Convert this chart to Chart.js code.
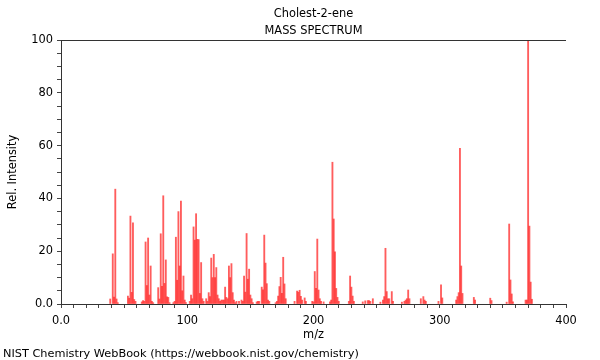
<!DOCTYPE html>
<html>
<head>
<meta charset="utf-8">
<script src="https://cdn.jsdelivr.net/npm/chart.js@4.4.1/dist/chart.umd.min.js"></script>
<style>
html,body{margin:0;padding:0;background:#fff;}
#wrap{position:relative;width:600px;height:360px;}
#chart{display:block;width:600px;height:360px;}
#footer{position:absolute;left:3px;top:347px;font-family:"DejaVu Sans",sans-serif;font-size:11.3px;line-height:13px;color:#000;white-space:nowrap;}
</style>
</head>
<body>
<div id="wrap">
<canvas id="chart" width="600" height="360"></canvas>
<div id="footer">NIST Chemistry WebBook (https://webbook.nist.gov/chemistry)</div>
</div>
<script>
// ---- data ----
const chartTitle = 'Cholest-2-ene';
const chartSubtitle = 'MASS SPECTRUM';
const xAxisTitle = 'm/z';
const yAxisTitle = 'Rel. Intensity';

const mz = [
  39, 41, 42, 43, 44, 45,
  53, 54, 55, 56, 57, 58, 59,
  64, 65, 66, 67, 68, 69, 70, 71, 72, 73,
  77, 78, 79, 80, 81, 82, 83, 84, 85, 86,
  89, 90, 91, 92, 93, 94, 95, 96, 97, 98, 99,
  102, 103, 104, 105, 106, 107, 108, 109, 110, 111, 112, 113,
  115, 116, 117, 118, 119, 120, 121, 122, 123, 124, 125, 126, 127, 128, 129,
  130, 131, 132, 133, 134, 135, 136, 137, 138, 139,
  141, 143, 144, 145, 146, 147, 148, 149, 150, 151, 152,
  155, 156, 157, 159, 160, 161, 162, 163, 164, 165,
  170, 171, 172, 173, 174, 175, 176, 177, 178,
  185, 187, 188, 189, 190, 191, 193, 194,
  199, 200, 201, 202, 203, 204, 205, 206, 208,
  213, 214, 215, 216, 217, 218, 219, 220,
  228, 229, 230, 231, 232,
  239, 241, 243, 244, 245, 247,
  253, 255, 256, 257, 258, 259, 260, 262, 263,
  270, 272, 273, 274, 275, 276,
  285, 287, 288, 289,
  299, 301, 302,
  313, 314, 315, 316, 317, 318,
  327, 328,
  340, 341,
  353, 355, 356, 357, 358,
  368, 369, 370, 371, 372, 373
];
const intensity = [
  1.9, 19.0, 2.6, 43.5, 1.9, 0.5,
  3.0, 2.2, 33.3, 4.4, 30.7, 1.7, 1.0,
  0.8, 1.3, 1.0, 23.5, 7.0, 25.0, 3.4, 14.4, 1.0, 0.5,
  6.2, 1.9, 26.6, 6.7, 41.0, 7.8, 16.7, 2.7, 2.5, 0.5,
  0.5, 1.0, 25.3, 9.0, 35.0, 14.4, 39.0, 5.0, 10.6, 1.5, 0.5,
  1.0, 3.4, 2.0, 29.2, 24.2, 34.2, 24.5, 24.4, 4.0, 15.7, 2.0, 1.0,
  2.0, 1.0, 4.3, 2.8, 17.4, 10.0, 18.8, 10.0, 13.8, 3.4, 2.0, 1.0, 1.5, 1.5, 1.5,
  6.4, 2.5, 2.0, 14.4, 10.0, 15.3, 4.3, 1.5, 0.5, 1.0,
  1.0, 1.5, 1.0, 10.6, 4.5, 26.7, 9.4, 13.2, 3.4, 2.0, 0.5,
  0.8, 1.0, 1.0, 6.4, 5.4, 26.1, 15.5, 7.7, 1.5, 1.0,
  0.5, 1.0, 3.0, 6.6, 10.1, 4.0, 17.7, 7.6, 2.0,
  1.0, 4.9, 4.5, 5.2, 2.9, 1.5, 2.3, 1.0,
  1.0, 0.8, 12.3, 5.9, 24.6, 5.3, 2.0, 1.0, 0.8,
  0.8, 1.5, 53.7, 32.2, 19.8, 5.9, 2.5, 1.0,
  1.0, 10.6, 6.4, 3.0, 1.0,
  0.8, 1.2, 1.3, 1.3, 1.0, 2.0,
  0.7, 1.5, 2.8, 21.1, 4.7, 2.0, 2.0, 4.7, 1.0,
  0.7, 1.0, 1.5, 2.0, 5.3, 2.0,
  2.0, 2.8, 1.5, 1.0,
  1.0, 7.3, 2.3,
  1.5, 2.8, 4.3, 59.0, 14.4, 4.0,
  2.5, 1.5,
  2.2, 1.3,
  0.7, 30.3, 9.1, 3.8, 0.8,
  1.5, 1.5, 100.0, 29.5, 8.3, 1.8
];

const xTickValues = [0, 100, 200, 300, 400];
const xTickLabels = ['0.0', '100', '200', '300', '400'];
const yTickValues = [0, 20, 40, 60, 80, 100];
const yTickLabels = ['0.0', '20', '40', '60', '80', '100'];

// ---- chart ----
const FONT = 'DejaVu Sans';
const FSIZE = 11.4;
const points = mz.map((m, i) => ({ x: m, y: intensity[i] }));

// frame line along the top of the plot, and the two title lines centred on the plot area
const frameAndTitles = {
  id: 'frameAndTitles',
  afterDraw(chart) {
    const { ctx, chartArea } = chart;
    const cx = (chartArea.left + chartArea.right) / 2;
    ctx.save();
    ctx.strokeStyle = '#333';
    ctx.lineWidth = 1;
    ctx.beginPath();
    ctx.moveTo(chartArea.left, Math.round(chartArea.top) + 0.5);
    ctx.lineTo(chartArea.right, Math.round(chartArea.top) + 0.5);
    ctx.stroke();
    ctx.fillStyle = '#000';
    ctx.font = FSIZE + 'px "' + FONT + '"';
    ctx.textAlign = 'center';
    ctx.textBaseline = 'middle';
    ctx.fillText(chartTitle, cx, chartArea.top - 26);
    ctx.fillText(chartSubtitle, cx, chartArea.top - 9);
    ctx.restore();
  }
};

new Chart(document.getElementById('chart'), {
  type: 'bar',
  data: {
    datasets: [{
      data: points,
      backgroundColor: 'rgba(255,30,30,0.72)',
      borderWidth: 0,
      barThickness: 1.2
    }]
  },
  options: {
    responsive: false,
    animation: false,
    layout: { padding: { left: 0, right: 34, top: 40, bottom: 18 } },
    plugins: {
      legend: { display: false },
      tooltip: { enabled: false },
      title: { display: false },
      subtitle: { display: false }
    },
    scales: {
      x: {
        type: 'linear', min: 0, max: 400, offset: false,
        grid: { drawOnChartArea: false, drawTicks: true, tickLength: 4, color: '#444', offset: false },
        border: { display: true, color: '#333', width: 1 },
        ticks: {
          stepSize: 10, autoSkip: false, maxRotation: 0, padding: 6, color: '#000',
          font: { family: FONT, size: FSIZE },
          callback: v => { const k = xTickValues.indexOf(v); return k >= 0 ? xTickLabels[k] : ''; }
        },
        title: { display: true, text: xAxisTitle, color: '#000', font: { family: FONT, size: FSIZE }, padding: 0 },
        afterFit(s) { s.height = 38; }
      },
      y: {
        min: 0, max: 100,
        grid: { drawOnChartArea: false, drawTicks: true, tickLength: 4, color: '#444' },
        border: { display: true, color: '#333', width: 1 },
        ticks: {
          stepSize: 5, autoSkip: false, padding: 4, color: '#000',
          font: { family: FONT, size: FSIZE },
          callback: v => { const k = yTickValues.indexOf(v); return k >= 0 ? yTickLabels[k] : ''; }
        },
        title: { display: true, text: yAxisTitle, color: '#000', font: { family: FONT, size: FSIZE }, padding: { top: 6, bottom: 0 } },
        afterFit(s) { s.width = 61; }
      }
    }
  },
  plugins: [frameAndTitles]
});
</script>
</body>
</html>
